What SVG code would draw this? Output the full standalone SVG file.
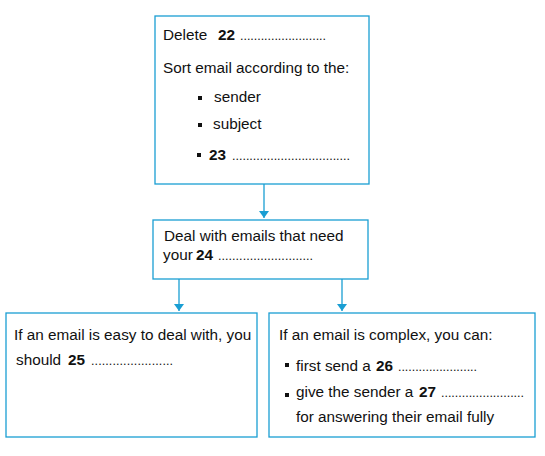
<svg xmlns="http://www.w3.org/2000/svg" width="545" height="456" viewBox="0 0 545 456">
<style>
.box{fill:#fff;stroke:#1a9ed3;stroke-width:1.3}
.t{font-family:"Liberation Sans",Arial,sans-serif;font-size:15.3px;fill:#111}
.b{font-weight:bold}
.d{font-family:"Liberation Sans",Arial,sans-serif;font-size:12.5px;fill:#111}
.ln{stroke:#1a9ed3;stroke-width:1.3;fill:none}
.blt{fill:#111}
</style>
<defs>
<marker id="ah" markerWidth="8" markerHeight="11" refX="7" refY="5.5" orient="auto" markerUnits="userSpaceOnUse">
<path d="M0,0.5 L7,5.5 L0,10.5 Z" fill="#1a9ed3"/>
</marker>
</defs>
<rect width="545" height="456" fill="#fff"/>
<g id="connectors">
<line class="ln" x1="264" y1="184" x2="264" y2="218" marker-end="url(#ah)"/>
<line class="ln" x1="179" y1="279" x2="179" y2="311" marker-end="url(#ah)"/>
<line class="ln" x1="342" y1="279" x2="342" y2="311" marker-end="url(#ah)"/>
</g>
<g id="node1">
<rect class="box" x="155" y="16" width="214" height="168"/>
<text class="t" x="163" y="40">Delete</text>
<text class="t b" x="218" y="40">22</text>
<text class="d" x="240" y="40" textLength="86" lengthAdjust="spacing">.........................</text>
<text class="t" x="163" y="73">Sort email according to the:</text>
<rect class="blt" x="198" y="96" width="4" height="4"/>
<text class="t" x="214" y="102">sender</text>
<rect class="blt" x="198" y="123" width="4" height="4"/>
<text class="t" x="213" y="129">subject</text>
<rect class="blt" x="197" y="153" width="4" height="4"/>
<text class="t b" x="209" y="160">23</text>
<text class="d" x="232" y="160" textLength="118" lengthAdjust="spacing">..................................</text>
</g>
<g id="node2">
<rect class="box" x="153" y="220" width="215" height="59"/>
<text class="t" x="164" y="241">Deal with emails that need</text>
<text class="t" x="163" y="260">your</text>
<text class="t b" x="196" y="260">24</text>
<text class="d" x="218" y="260" textLength="95" lengthAdjust="spacing">...........................</text>
</g>
<g id="node3">
<rect class="box" x="6" y="313" width="251" height="124"/>
<text class="t" x="14" y="340">If an email is easy to deal with, you</text>
<text class="t" x="16" y="365">should</text>
<text class="t b" x="68" y="365">25</text>
<text class="d" x="91" y="365" textLength="82" lengthAdjust="spacing">.......................</text>
</g>
<g id="node4">
<rect class="box" x="269" y="313" width="266" height="124"/>
<text class="t" x="279" y="340">If an email is complex, you can:</text>
<rect class="blt" x="285" y="363" width="4" height="4"/>
<text class="t" x="296" y="371">first send a</text>
<text class="t b" x="376" y="371">26</text>
<text class="d" x="398" y="371" textLength="79" lengthAdjust="spacing">.......................</text>
<rect class="blt" x="285" y="393" width="4" height="4"/>
<text class="t" x="296" y="397">give the sender a</text>
<text class="t b" x="419" y="397">27</text>
<text class="d" x="441" y="397" textLength="83" lengthAdjust="spacing">........................</text>
<text class="t" x="296" y="422">for answering their email fully</text>
</g>
</svg>
